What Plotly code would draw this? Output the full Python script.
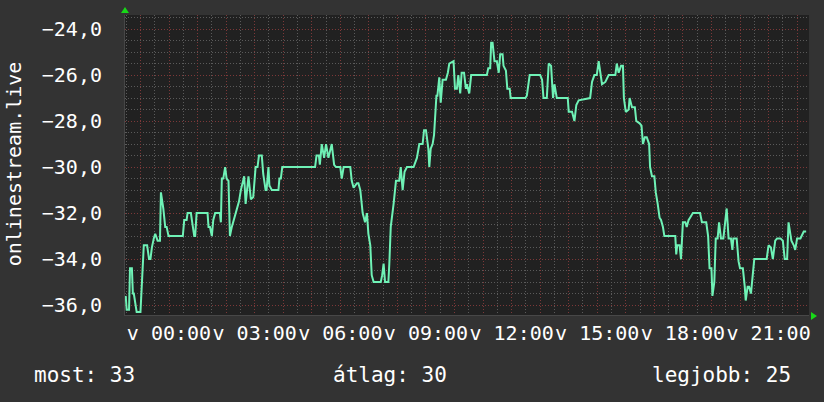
import plotly.graph_objects as go

# minutes from midnight and the signal level
minutes = [-91, -89, -84, -82, -78, -76, -74, -71, -68, -60, -57, -53, -46, -42, -39, -36, -32, -29, -24, -19,
           -17, -12, -8, -5, -1, 29, 32, 37, 39, 46, 48, 53, 55, 58, 81, 83, 86, 90, 93, 97,
           107, 109, 111, 114, 118, 121, 125, 128, 132, 137, 142, 147, 151, 158, 161, 167, 172, 177, 182, 186,
           189, 195, 198, 203, 205, 209, 211, 216, 230, 232, 235, 238, 307, 310, 315, 317, 321, 326, 330, 335,
           342, 347, 351, 360, 363, 367, 381, 384, 388, 395, 398, 402, 407, 412, 416, 419, 423, 426, 430, 445,
           448, 451, 454, 461, 463, 466, 472, 477, 484, 487, 491, 495, 500, 514, 521, 526, 533, 536, 540, 545,
           547, 550, 554, 557, 562, 564, 568, 571, 575, 582, 586, 589, 598, 601, 605, 608, 612, 615, 620, 624,
           626, 631, 635, 668, 671, 675, 677, 680, 684, 689, 693, 696, 701, 703, 708, 711, 716, 718, 749, 752,
           758, 780, 784, 787, 794, 798, 803, 807, 810, 815, 838, 840, 847, 852, 856, 861, 885, 889, 894, 899,
           903, 906, 910, 917, 924, 938, 941, 945, 950, 954, 956, 960, 966, 968, 973, 979, 982, 989, 993, 996,
           1000, 1004, 1009, 1011, 1015, 1020, 1023, 1027, 1031, 1034, 1038, 1041, 1064, 1066, 1068, 1073, 1076, 1080, 1085, 1088,
           1092, 1095, 1101, 1116, 1120, 1129, 1133, 1136, 1140, 1142, 1146, 1149, 1153, 1156, 1160, 1165, 1169, 1172, 1176, 1181,
           1184, 1186, 1193, 1197, 1200, 1206, 1210, 1212, 1216, 1219, 1223, 1226, 1230, 1256, 1260, 1265, 1269, 1274, 1278, 1285,
           1290, 1294, 1299, 1302, 1304, 1308, 1313, 1316, 1320, 1327, 1334, 1339]
signal = [-35.6, -36.2, -36.2, -34.4, -34.4, -35.5, -35.5, -36.0, -36.3, -36.3, -34.8, -33.4, -33.4, -34.0, -34.0, -33.5, -33.1, -32.9, -33.2, -33.2,
          -31.1, -31.8, -32.6, -32.6, -33.0, -33.0, -32.3, -32.3, -32.0, -32.0, -32.3, -33.0, -33.0, -32.0, -32.0, -32.6, -32.6, -33.0, -32.3, -32.0,
          -32.0, -32.4, -30.5, -30.5, -30.0, -30.5, -30.6, -33.0, -32.6, -32.2, -31.9, -31.5, -31.0, -30.4, -31.6, -30.4, -31.4, -31.3, -30.0, -30.0,
          -29.5, -29.5, -30.3, -31.0, -31.0, -30.0, -30.8, -31.0, -31.0, -30.5, -30.5, -30.0, -30.0, -29.5, -29.5, -29.9, -29.0, -29.6, -29.0, -29.6,
          -29.0, -29.9, -30.0, -30.0, -30.5, -30.0, -30.0, -30.6, -30.9, -30.7, -30.7, -31.0, -32.0, -32.4, -32.0, -32.9, -33.4, -34.7, -35.0, -35.0,
          -34.7, -34.2, -35.0, -35.0, -34.2, -32.6, -31.6, -30.6, -30.6, -30.0, -31.0, -30.2, -30.0, -30.0, -29.6, -29.0, -29.0, -28.4, -28.4, -29.2,
          -30.0, -29.2, -29.0, -28.6, -26.9, -26.9, -26.1, -27.2, -26.2, -26.2, -25.9, -25.5, -25.4, -26.6, -26.6, -26.0, -26.8, -25.9, -25.9, -26.6,
          -26.4, -26.8, -26.0, -26.0, -25.7, -25.7, -24.6, -24.6, -25.4, -25.4, -25.9, -25.1, -25.1, -25.6, -25.8, -26.6, -26.6, -27.0, -27.0, -26.9,
          -26.0, -26.0, -26.2, -27.0, -27.0, -25.5, -25.6, -27.0, -26.4, -27.0, -27.0, -27.6, -27.6, -28.0, -27.3, -27.1, -27.0, -26.3, -26.0, -26.0,
          -25.4, -25.9, -26.4, -26.3, -26.0, -26.0, -25.5, -25.9, -25.6, -25.6, -27.0, -27.6, -27.5, -27.0, -27.4, -27.4, -28.0, -28.1, -28.2, -29.0,
          -28.7, -28.7, -29.0, -30.0, -30.4, -30.4, -31.1, -31.6, -32.2, -32.3, -32.6, -33.0, -33.0, -33.8, -33.4, -33.4, -34.0, -32.4, -32.4, -32.6,
          -32.3, -32.2, -32.0, -32.0, -32.4, -32.4, -33.0, -34.4, -34.4, -35.6, -35.0, -33.1, -33.1, -32.4, -33.1, -33.1, -32.4, -31.8, -33.1, -33.1,
          -33.6, -33.1, -33.1, -34.1, -34.4, -34.4, -35.2, -35.8, -35.2, -35.2, -35.5, -34.7, -34.0, -34.0, -33.4, -33.5, -34.0, -33.2, -33.1, -33.1,
          -33.2, -34.0, -34.0, -32.4, -32.7, -33.2, -33.4, -33.6, -33.1, -33.1, -32.8, -32.8]

hour_ticks = list(range(-60, 1345, 60))
hour_labels = ["v {:02d}:00".format(m // 60) if m >= 0 and m % 180 == 0 else "" for m in hour_ticks]
y_ticks = [-36, -34, -32, -30, -28, -26, -24]
stats = ["most: 33", "átlag: 30", "legjobb: 25"]
y_title = "onlinestream.live"

major = "#7c3838"
minor = "#5a5a5a"
dots = "1px,2px"

fig = go.Figure(go.Scatter(x=minutes, y=signal, mode="lines",
                           line=dict(color="#6ff2b6", width=2), hoverinfo="skip"))

fig.update_layout(
    width=824, height=402,
    margin=dict(l=125, r=15, t=15, b=87, autoexpand=False),
    paper_bgcolor="#333333", plot_bgcolor="#212121",
    showlegend=False, separators=", ",
    font=dict(family="DejaVu Sans Mono", size=20, color="white"),
)
fig.update_xaxes(
    range=[-92.5, 1345], tickmode="array", tickvals=hour_ticks, ticktext=hour_labels,
    tickangle=0, automargin=False,
    showgrid=True, gridcolor=major, griddash=dots, gridwidth=1, zeroline=False,
    ticks="", ticklen=0, ticklabelstandoff=0, showline=True, linecolor="#474747",
    minor=dict(tickmode="array", tickvals=list(range(-90, 1345, 30)), showgrid=True,
               gridcolor=minor, griddash=dots, ticks=""),
)
fig.update_yaxes(
    range=[-36.43, -23.39], tickmode="array", tickvals=y_ticks, tickformat=".1f",
    automargin=False,
    showgrid=True, gridcolor=major, griddash=dots, gridwidth=1, zeroline=False,
    ticks="", ticklen=0, ticklabelstandoff=18, showline=True, linecolor="#474747",
    minor=dict(tickmode="array", tickvals=[v / 2 for v in range(-73, -46)], showgrid=True,
               gridcolor=minor, griddash=dots, ticks=""),
)

# arrows at the axis ends
fig.add_shape(type="path", xref="paper", yref="paper", xsizemode="pixel", ysizemode="pixel",
              xanchor=0, yanchor=1, path="M -4 2 L 4 2 L 0 8 Z",
              fillcolor="#18d818", line=dict(width=0))
fig.add_shape(type="path", xref="paper", yref="paper", xsizemode="pixel", ysizemode="pixel",
              xanchor=1, yanchor=0, path="M 2 3 L 2 -5 L 8 -1 Z",
              fillcolor="#18d818", line=dict(width=0))

fig.add_annotation(text=y_title, textangle=-90, xref="paper", yref="paper",
                   x=-0.162, y=0.503, xanchor="center", yanchor="middle", showarrow=False)
fig.add_annotation(text=stats[0], xref="paper", yref="paper", x=-0.136, y=-0.2,
                   xanchor="left", yanchor="middle", showarrow=False, font=dict(size=21))
fig.add_annotation(text=stats[1], xref="paper", yref="paper", x=0.388, y=-0.2,
                   xanchor="center", yanchor="middle", showarrow=False, font=dict(size=21))
fig.add_annotation(text=stats[2], xref="paper", yref="paper", x=0.976, y=-0.2,
                   xanchor="right", yanchor="middle", showarrow=False, font=dict(size=21))

# the page's default body margin would push the figure 8px off
fig.write_html("out.html", config={"displayModeBar": False},
               post_script="document.body.style.margin='0';")
